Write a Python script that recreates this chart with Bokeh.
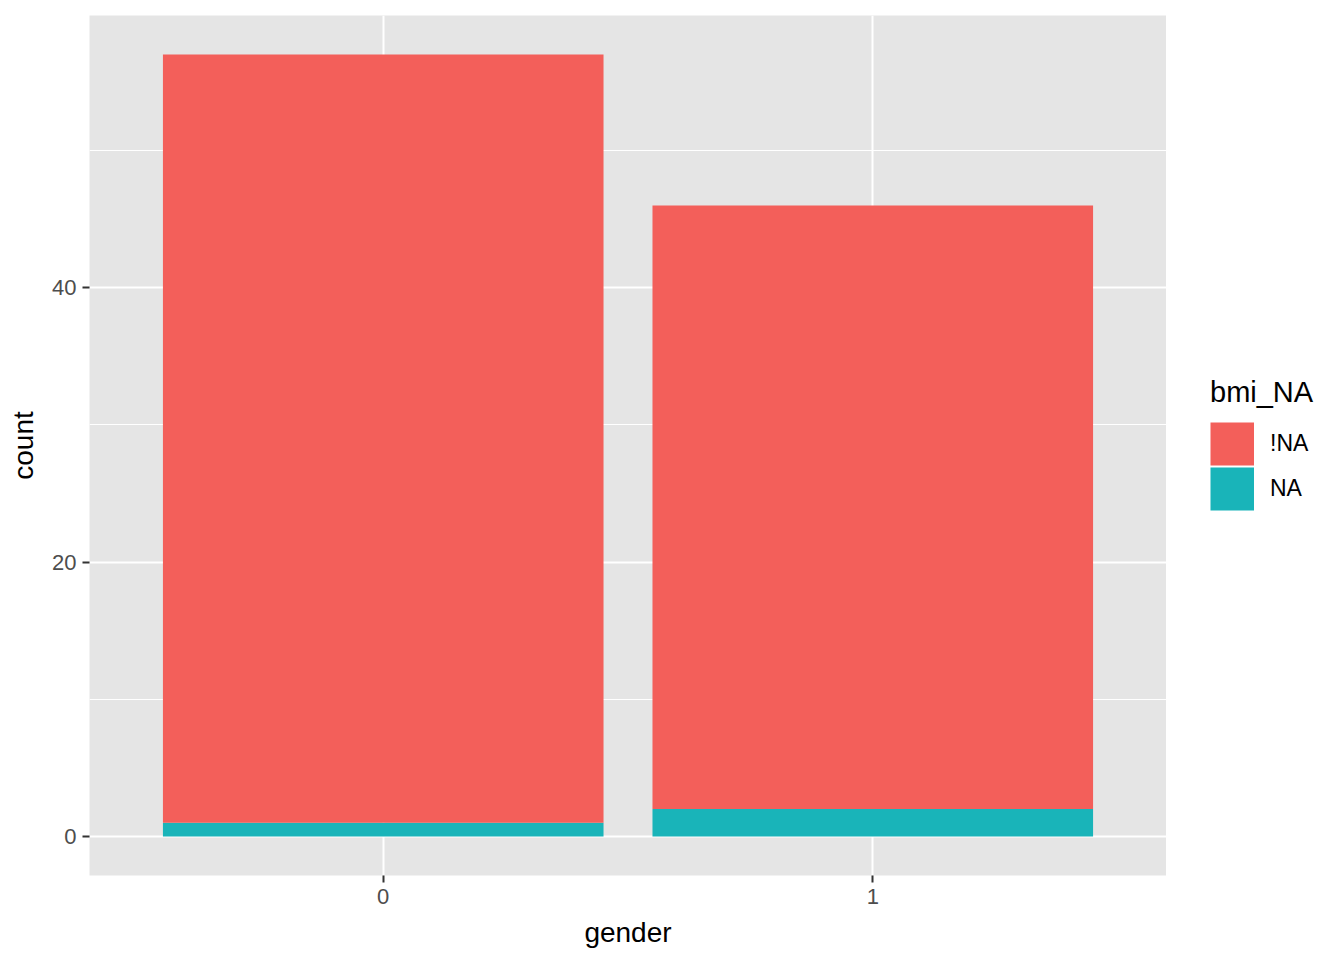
from bokeh.plotting import figure
from bokeh.layouts import row
from bokeh.models import Range1d, FixedTicker, Legend, LegendItem, ColumnDataSource
from bokeh.embed import file_html
from bokeh.resources import INLINE

# Data
genders = ["0", "1"]
na_counts = [1, 2]
notna_counts = [56, 44]
series = ["!NA", "NA"]
colors = ["#F35F5A", "#19B4B9"]

xpos = [i + 1 for i in range(len(genders))]
src = ColumnDataSource(dict(
    x=xpos,
    na=na_counts,
    notna=notna_counts,
    total=[a + b for a, b in zip(na_counts, notna_counts)],
    zero=[0] * len(genders),
))

FONT = "Liberation Sans"
ymax = max(a + b for a, b in zip(na_counts, notna_counts))
pad = ymax * 0.05

H = 950
PW = 1166
LW = 174
p = figure(width=PW, height=H, output_backend="svg", toolbar_location=None,
           x_range=Range1d(0.4, len(genders) + 0.6),
           y_range=Range1d(-pad, ymax + pad),
           min_border_left=89, min_border_top=15, min_border_right=0,
           min_border_bottom=H - 875)

p.background_fill_color = "#E5E5E5"
p.border_fill_color = "white"
p.outline_line_color = None

p.vbar(x="x", width=0.9, bottom="zero", top="na", source=src,
       fill_color=colors[1], line_color=None)
p.vbar(x="x", width=0.9, bottom="na", top="total", source=src,
       fill_color=colors[0], line_color=None)

# axes
p.xaxis.ticker = FixedTicker(ticks=xpos)
p.xaxis.major_label_overrides = {x: g for x, g in zip(xpos, genders)}
p.yaxis.ticker = FixedTicker(ticks=[0, 20, 40], minor_ticks=[10, 30, 50])
p.xaxis.axis_label = "gender"
p.yaxis.axis_label = "count"
for ax in (p.xaxis, p.yaxis):
    ax.axis_line_color = None
    ax.major_tick_line_color = "#333333"
    ax.major_tick_line_width = 2
    ax.major_tick_out = 7
    ax.major_tick_in = 0
    ax.minor_tick_line_color = None
    ax.major_label_text_font = FONT
    ax.major_label_text_font_size = "22px"
    ax.major_label_text_color = "#4D4D4D"
    ax.axis_label_text_font = FONT
    ax.axis_label_text_font_size = "28px"
    ax.axis_label_text_font_style = "normal"
    ax.axis_label_text_color = "black"
    ax.major_label_standoff = 6
    ax.axis_label_standoff = 10

p.xgrid.grid_line_color = "white"
p.xgrid.grid_line_width = 2
p.ygrid.grid_line_color = "white"
p.ygrid.grid_line_width = 2
p.ygrid.minor_grid_line_color = "white"
p.ygrid.minor_grid_line_width = 1

# legend panel: a second, axis-less figure holding only the legend
lp = figure(width=LW, height=H, output_backend="svg", toolbar_location=None,
            x_range=Range1d(10, 11), y_range=Range1d(10, 11),
            x_axis_location=None, y_axis_location=None,
            min_border_left=0, min_border_right=0, min_border_top=0, min_border_bottom=0)
lp.grid.visible = False
lp.outline_line_color = None
lp.background_fill_color = "white"
key_src = ColumnDataSource(dict(x=[0, 0.1], y=[0, 0]))
items = []
for s, c in zip(series, colors):
    r = lp.line(x="x", y="y", source=key_src, line_color=c, line_width=43, line_cap="butt")
    items.append(LegendItem(label=s, renderers=[r]))

legend = Legend(items=items, location=(44, H - 511 - 75), title="bmi_NA",
                title_text_font=FONT, title_text_font_size="29px", title_text_font_style="normal",
                title_text_color="black",
                label_text_font=FONT, label_text_font_size="23px", label_text_color="black",
                glyph_width=44, glyph_height=45, label_height=45, label_standoff=16, spacing=0,
                padding=0, margin=0, title_standoff=12,
                border_line_color=None, background_fill_alpha=0)
lp.add_layout(legend, "center")

layout = row(p, lp, spacing=0)
open("out.html", "w").write(file_html(layout, INLINE))
